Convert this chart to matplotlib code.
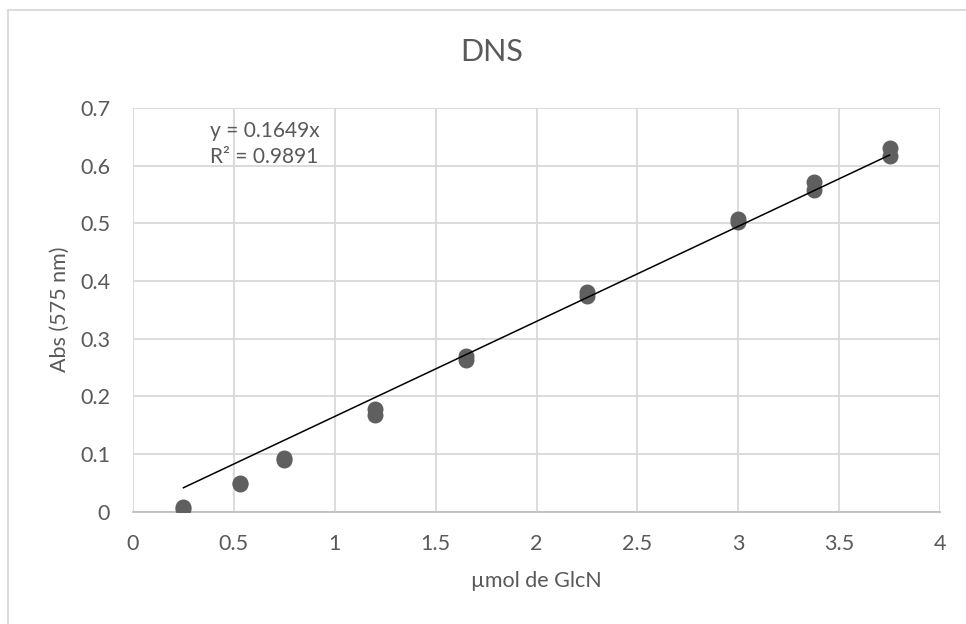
import matplotlib
matplotlib.use('Agg')
import matplotlib.pyplot as plt
from matplotlib.lines import Line2D

# duplicate readings at each GlcN amount
umol = [0.25, 0.25, 0.53, 0.53, 0.75, 0.75, 1.2, 1.2, 1.65, 1.65,
        2.25, 2.25, 3.0, 3.0, 3.375, 3.375, 3.75, 3.75]
absorb = [0.004, 0.008, 0.047, 0.050, 0.090, 0.093, 0.168, 0.177, 0.262, 0.270,
          0.373, 0.380, 0.502, 0.507, 0.557, 0.572, 0.616, 0.630]
SLOPE = 0.1649
R2 = 0.9891
x_ticks = [0, 0.5, 1, 1.5, 2, 2.5, 3, 3.5, 4]
y_ticks = [0, 0.1, 0.2, 0.3, 0.4, 0.5, 0.6, 0.7]

W, H = 966, 624
GREY = '#595959'
plt.rcParams['font.family'] = ['Lato', 'DejaVu Sans']

fig = plt.figure(figsize=(W / 100, H / 100), dpi=100)
# chart-area border: only its top and left edges fall inside the image
x0, y0 = 7.5 / W, 1 - 9.5 / H
fig.add_artist(Line2D([x0, x0], [0, y0], transform=fig.transFigure, color='#d9d9d9', lw=1.3))
fig.add_artist(Line2D([x0, 1], [y0, y0], transform=fig.transFigure, color='#d9d9d9', lw=1.3))

ax = fig.add_axes([133 / W, 1 - 511.5 / H, (940 - 133) / W, (511.5 - 108) / H])
ax.set_xlim(0, 4)
ax.set_ylim(0, 0.7)
ax.set_xticks(x_ticks)
ax.set_xticklabels([f'{v:g}' for v in x_ticks])
ax.set_yticks(y_ticks)
ax.set_yticklabels([f'{v:g}' for v in y_ticks])
ax.grid(True, color='#d9d9d9', lw=1.3)
ax.set_axisbelow(True)
for s in ('top', 'right', 'left'):
    ax.spines[s].set_visible(False)
ax.spines['bottom'].set_color('#bfbfbf')
ax.spines['bottom'].set_linewidth(1.3)
ax.tick_params(length=0, labelsize=15.5, colors=GREY)
ax.tick_params(axis='x', pad=16.5)
ax.tick_params(axis='y', pad=16.5)

ax.plot(umol, absorb, 'o', ms=10.5, color='#5f5f5f', zorder=3)
xl = [min(umol), max(umol)]
ax.plot(xl, [SLOPE * v for v in xl], color='black', lw=1.1, zorder=4)

ax.text(0.38, 0.638, f'y = {SLOPE}x\nR² = {R2}', fontsize=15, color=GREY,
        ha='left', va='center', linespacing=1.35)

ax.set_xlabel('µmol de GlcN', fontsize=15.5, color=GREY, labelpad=12)
ax.set_ylabel('Abs (575 nm)', fontsize=15.5, color=GREY, labelpad=7)
fig.text(492 / W, 1 - 52 / H, 'DNS', fontsize=22, color=GREY, ha='center', va='center')

fig.savefig('out.png', dpi=100)
